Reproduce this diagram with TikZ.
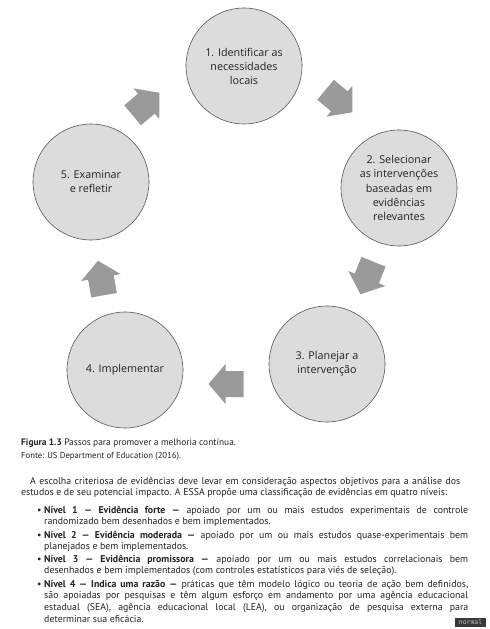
\documentclass[tikz,border=0pt]{standalone}
\usepackage{fontspec}
\setmainfont{PT Sans}
\newfontfamily\circfont{Open Sans}
\setmonofont{DejaVu Sans Mono}
\usepackage{xcolor}
\usetikzlibrary{positioning}

\definecolor{circfill}{HTML}{DCDCDC}
\definecolor{circline}{HTML}{555555}
\definecolor{setagray}{HTML}{9A9A9A}
\definecolor{boxdark}{HTML}{3A3A3A}
\definecolor{textgray}{HTML}{222222}

\tikzset{
    passo/.style={circle, draw=circline, fill=circfill, line width=0.5pt,
        minimum size=34.8mm, inner sep=0pt, align=center,
        font=\circfont\fontsize{9.2}{12}\selectfont, text=textgray},
    seta/.pic={
        \fill[setagray] (-17.5,-13) -- (0.5,-13) -- (0.5,-20) -- (17.5,0)
            -- (0.5,20) -- (0.5,13) -- (-17.5,13) -- cycle;
    },
    corpo/.style={anchor=base west, inner sep=0pt, align=justify, text=textgray,
        font=\fontsize{8.4}{10.2}\selectfont},
}

\begin{document}
\begin{tikzpicture}[x=0.3mm, y=-0.3mm]
    \fill[white] (0,0) rectangle (489,629);
    \useasboundingbox (0,0) rectangle (489,629);

    % os cinco passos
    \node[passo] (c1) at (244,66) {1. Identificar as\\necessidades\\locais};
    \node[passo] (c2) at (399,188) {2. Selecionar\\as intervenções\\baseadas em\\evidências\\relevantes};
    \node[passo] (c3) at (327,364) {3. Planejar a\\intervenção};
    \node[passo] (c4) at (125,370) {4. Implementar};
    \node[passo] (c5) at (91,182) {5. Examinar\\e refletir};

    % setas do ciclo
    \pic[rotate=40] (a51) at (146,104) {seta};
    \pic[rotate=-40] (a12) at (339,101) {seta};
    \pic[rotate=-112] (a23) at (367,278) {seta};
    \pic[rotate=180] (a34) at (226,384) {seta};
    \pic[rotate=100] (a45) at (101,278) {seta};

    % legenda
    \node[corpo, font=\fontsize{8}{9.5}\selectfont] (cap) at (21,445)
        {\textbf{Figura 1.3} Passos para promover a melhoria contínua.};
    \node[corpo, font=\fontsize{7.4}{9}\selectfont] (fonte) at (21,458)
        {Fonte: US Department of Education (2016).};

    % texto
    \node[corpo, text width=131.7mm] (par) at (21,484)
        {\hspace*{2.7mm}A escolha criteriosa de evidências deve levar em consideração aspectos objetivos para a análise dos\linebreak
        estudos e de seu potencial impacto. A ESSA propõe uma classificação de evidências em quatro níveis:};

    \node[corpo, text width=127.2mm] (n1) at (44,513)
        {\llap{\textbullet\hspace{0.8mm}}\textbf{Nível 1 — Evidência forte —} apoiado por um ou mais estudos experimentais de controle\linebreak
        randomizado bem desenhados e bem implementados.};
    \node[corpo, text width=127.2mm] (n2) at (44,538)
        {\llap{\textbullet\hspace{0.8mm}}\textbf{Nível 2 — Evidência moderada —} apoiado por um ou mais estudos quase-experimentais bem\linebreak
        planejados e bem implementados.};
    \node[corpo, text width=127.2mm] (n3) at (44,562)
        {\llap{\textbullet\hspace{0.8mm}}\textbf{Nível 3 — Evidência promissora —} apoiado por um ou mais estudos correlacionais bem\linebreak
        desenhados e bem implementados (com controles estatísticos para viés de seleção).};
    \node[corpo, text width=127.2mm] (n4) at (44,587)
        {\llap{\textbullet\hspace{0.8mm}}\textbf{Nível 4 — Indica uma razão —} práticas que têm modelo lógico ou teoria de ação bem definidos,\linebreak
        são apoiadas por pesquisas e têm algum esforço em andamento por uma agência educacional\linebreak
        estadual (SEA), agência educacional local (LEA), ou organização de pesquisa externa para\linebreak
        determinar sua eficácia.};

    % marcador no canto
    \node[fill=boxdark, text=lightgray, inner sep=0pt, minimum width=9.3mm, minimum height=2.7mm,
        font=\ttfamily\fontsize{5.5}{6}\selectfont] (modo) at (470.5,622.5) {normal};
\end{tikzpicture}
\end{document}
